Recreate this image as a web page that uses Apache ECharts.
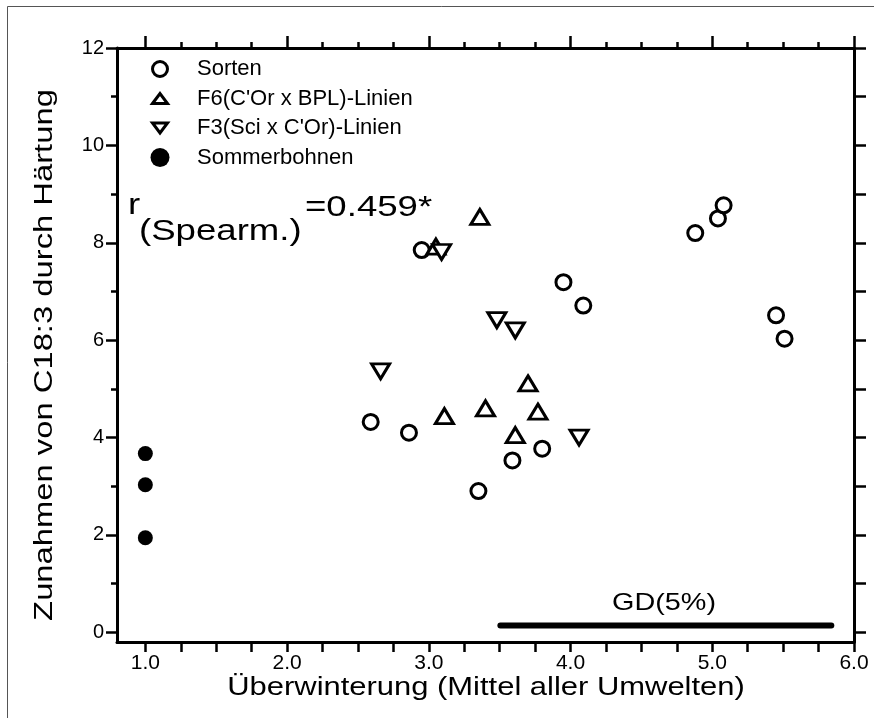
<!DOCTYPE html>
<html>
<head>
<meta charset="utf-8">
<script src="https://cdn.jsdelivr.net/npm/echarts@6/dist/echarts.min.js"></script>
<style>
  html, body { margin: 0; padding: 0; background: #fff; }
  #chart { width: 874px; height: 718px; }
</style>
</head>
<body>
<div id="chart"></div>
<script>
// Daten: [Überwinterung, Zunahme C18:3]
var sorten = [[2.59, 4.32], [2.86, 4.10], [3.35, 2.90], [3.59, 3.53], [3.80, 3.77], [2.95, 7.85],
  [3.95, 7.19], [4.09, 6.71], [4.88, 8.20], [5.04, 8.50], [5.08, 8.77], [5.45, 6.51], [5.51, 6.03]];
var f6Linien = [[3.05, 7.92], [3.36, 8.53], [3.11, 4.44], [3.40, 4.60], [3.61, 4.05], [3.70, 5.11], [3.77, 4.53]];
var f3Linien = [[2.66, 5.36], [3.09, 7.81], [3.48, 6.41], [3.61, 6.20], [4.06, 4.00]];
var sommerbohnen = [[1.0, 3.67], [1.0, 3.03], [1.0, 1.94]];
var gd5 = [[3.505, 0.14], [5.84, 0.14]];

var xLabels = [1, 2, 3, 4, 5, 6];
var xMinor = [1.25, 1.5, 1.75, 2.25, 2.5, 2.75, 3.25, 3.5, 3.75, 4.25, 4.5, 4.75, 5.25, 5.5, 5.75];
var xAllTicks = [1, 1.25, 1.5, 1.75, 2, 2.25, 2.5, 2.75, 3, 3.25, 3.5, 3.75, 4, 4.25, 4.5, 4.75, 5, 5.25, 5.5, 5.75, 6];
var yLabels = [0, 2, 4, 6, 8, 10, 12];
var yMinor = [1, 3, 5, 7, 9, 11];
var yAllTicks = [0, 1, 2, 3, 4, 5, 6, 7, 8, 9, 10, 11, 12];

var names = ['Sorten', "F6(C'Or x BPL)-Linien", "F3(Sci x C'Or)-Linien", 'Sommerbohnen'];
var upTri = 'path://M9,0L18,15L0,15Z';
var downTri = 'path://M0,0L18,0L9,15Z';
// Legendensymbole mit Rand, damit sie kleiner als die Box bleiben
var legCircle = 'path://M0,0M19,19M2,9.5A7.5,7.5,0,1,0,17,9.5A7.5,7.5,0,1,0,2,9.5Z';
var legUp = 'path://M0,0M19,19M2,14.5L9.5,4.5L17,14.5Z';
var legDown = 'path://M0,0M19,19M2,4.5L17,4.5L9.5,14.5Z';
var font = 'Liberation Sans, Arial, sans-serif';

var chart = echarts.init(document.getElementById('chart'));

function xAx(pos, ticks, len, line, labels) {
  return {
    type: 'value', position: pos, min: 0.8, max: 6.0,
    axisLine: {show: line, onZero: false, lineStyle: {color: '#000', width: 3}},
    axisTick: {show: true, customValues: ticks, length: len, lineStyle: {color: '#000', width: 2.5}},
    axisLabel: labels ? {customValues: labels, color: '#000', fontSize: 21, fontFamily: font, margin: 11,
      formatter: function (v) { return v.toFixed(1); }} : {show: false},
    splitLine: {show: false}
  };
}
function yAx(pos, ticks, len, line, labels) {
  return {
    type: 'value', position: pos, min: -0.2, max: 12,
    axisLine: {show: line, onZero: false, lineStyle: {color: '#000', width: 3}},
    axisTick: {show: true, customValues: ticks, length: len, lineStyle: {color: '#000', width: 2.5}},
    axisLabel: labels ? {customValues: labels, color: '#000', fontSize: 20, fontFamily: font, margin: 13} : {show: false},
    splitLine: {show: false}
  };
}

var legendIconStyle = {borderColor: '#000', borderWidth: 3, borderJoin: 'miter'};

var option = {
  animation: false,
  backgroundColor: '#fff',
  grid: {left: 117, right: 20, top: 48, bottom: 76, containLabel: false},
  xAxis: [
    xAx('bottom', xAllTicks, 10, true, xLabels),
    xAx('top', xLabels, 12, true, null),
    xAx('top', xMinor, 6, false, null)
  ],
  yAxis: [
    yAx('left', yLabels, 11, true, yLabels),
    yAx('left', yMinor, 6, false, null),
    yAx('right', yAllTicks, 12, true, null)
  ],
  legend: {
    orient: 'vertical', left: 149, top: 58, padding: 0,
    itemWidth: 64, itemHeight: 19, itemGap: 7.5,
    textStyle: {fontSize: 22, color: '#000', fontFamily: font},
    data: [
      {name: names[0], icon: legCircle, itemStyle: legendIconStyle},
      {name: names[1], icon: legUp, itemStyle: legendIconStyle},
      {name: names[2], icon: legDown, itemStyle: legendIconStyle},
      {name: names[3], icon: 'circle'}
    ]
  },
  series: [
    {
      name: names[0], type: 'scatter', data: sorten, symbol: 'circle', symbolSize: 15,
      itemStyle: {color: '#fff', borderColor: '#000', borderWidth: 3, opacity: 1}
    },
    {
      name: names[1], type: 'scatter', data: f6Linien, symbol: upTri, symbolSize: [18, 15],
      itemStyle: {color: '#fff', borderColor: '#000', borderWidth: 3, borderJoin: 'miter', opacity: 1}
    },
    {
      name: names[2], type: 'scatter', data: f3Linien, symbol: downTri, symbolSize: [18, 15],
      itemStyle: {color: '#fff', borderColor: '#000', borderWidth: 3, borderJoin: 'miter', opacity: 1}
    },
    {
      name: names[3], type: 'scatter', data: sommerbohnen, symbol: 'circle', symbolSize: 15,
      itemStyle: {color: '#000', opacity: 1}
    },
    {
      name: 'GD(5%)', type: 'line', data: gd5, symbol: 'none', silent: true,
      lineStyle: {color: '#000', width: 6, cap: 'round'}
    }
  ],
  graphic: [
    {type: 'rect', silent: true, shape: {x: 7.5, y: 6.5, width: 900, height: 800},
      style: {fill: 'none', stroke: '#555', lineWidth: 1}},
    // Achsentitel
    {type: 'text', x: 486, y: 688, scaleX: 1.19, silent: true,
      style: {text: 'Überwinterung (Mittel aller Umwelten)', font: '26px ' + font, fill: '#000',
        align: 'center', verticalAlign: 'middle'}},
    {type: 'text', x: 45, y: 355, rotation: Math.PI / 2, scaleX: 1.26, silent: true,
      style: {text: 'Zunahmen von C18:3 durch Härtung', font: '26px ' + font, fill: '#000',
        align: 'center', verticalAlign: 'middle'}},
    // Korrelation
    {type: 'text', x: 128, y: 206, scaleX: 1.22, silent: true,
      style: {text: 'r', font: '30px ' + font, fill: '#000', align: 'left', verticalAlign: 'middle'}},
    {type: 'text', x: 139, y: 232, scaleX: 1.22, silent: true,
      style: {text: '(Spearm.)', font: '30px ' + font, fill: '#000', align: 'left', verticalAlign: 'middle'}},
    {type: 'text', x: 305, y: 208, scaleX: 1.22, silent: true,
      style: {text: '=0.459*', font: '30px ' + font, fill: '#000', align: 'left', verticalAlign: 'middle'}},
    {type: 'text', x: 664, y: 603, scaleX: 1.2, silent: true,
      style: {text: 'GD(5%)', font: '24px ' + font, fill: '#000', align: 'center', verticalAlign: 'middle'}}
  ]
};
chart.setOption(option);
</script>
</body>
</html>
